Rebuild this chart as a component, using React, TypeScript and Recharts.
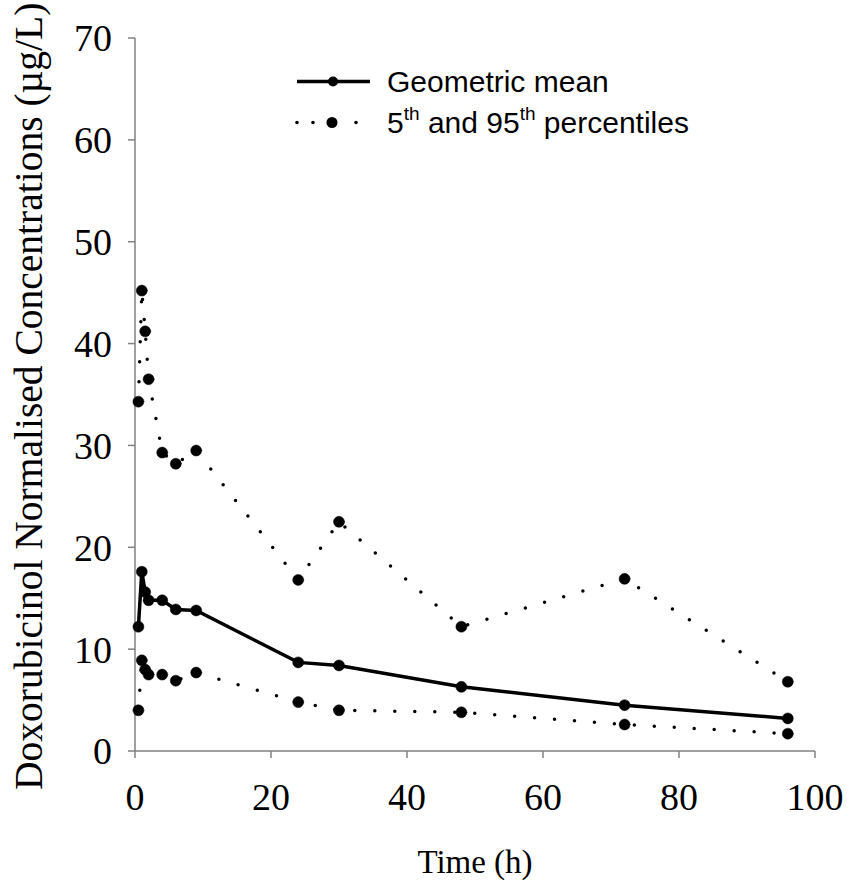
import { LineChart, Line, XAxis, YAxis, Legend, Label } from 'recharts';

// sampling times (h)
const times = [0.5, 1, 1.5, 2, 4, 6, 9, 24, 30, 48, 72, 96];
// geometric mean, 5th and 95th percentiles (µg/L)
const geoMean = [12.2, 17.6, 15.6, 14.8, 14.8, 13.9, 13.8, 8.7, 8.4, 6.3, 4.5, 3.2];
const p95 = [34.3, 45.2, 41.2, 36.5, 29.3, 28.2, 29.5, 16.8, 22.5, 12.2, 16.9, 6.8];
const p5 = [4.0, 8.9, 8.0, 7.5, 7.5, 6.9, 7.7, 4.8, 4.0, 3.8, 2.6, 1.7];

const xTicks = [0, 20, 40, 60, 80, 100];
const yTicks = [0, 10, 20, 30, 40, 50, 60, 70];

const data = times.map((t, i) => ({ time: t, mean: geoMean[i], p95: p95[i], p5: p5[i] }));

const SERIF = "'Liberation Serif', 'Times New Roman', serif";
const SANS = "'Liberation Sans', Arial, sans-serif";
const AXIS = '#808080';

const dotStyle = { r: 5.5, fill: '#000', stroke: '#000', strokeWidth: 0.5, strokeDasharray: 'none' };

function ChartLegend() {
  const row = { display: 'flex', alignItems: 'center', height: 41, whiteSpace: 'nowrap' as const };
  const sup = { fontSize: 19, verticalAlign: 'top', lineHeight: 1, position: 'relative' as const, top: -2 };
  return (
    <div style={{ fontFamily: SANS, fontSize: 30, color: '#000' }}>
      <div style={row}>
        <svg width={80} height={41}>
          <line x1={7} y1={20.5} x2={80} y2={20.5} stroke="#000" strokeWidth={3.5} />
          <circle cx={43} cy={20.5} r={5} fill="#000" />
        </svg>
        <span style={{ marginLeft: 17 }}>Geometric mean</span>
      </div>
      <div style={row}>
        <svg width={80} height={41}>
          <circle cx={7} cy={20.5} r={1.8} fill="#000" />
          <circle cx={23} cy={20.5} r={1.8} fill="#000" />
          <circle cx={42} cy={20.5} r={5.5} fill="#000" />
          <circle cx={66} cy={20.5} r={1.8} fill="#000" />
        </svg>
        <span style={{ marginLeft: 17 }}>
          5<span style={sup}>th</span> and 95<span style={sup}>th</span> percentiles
        </span>
      </div>
    </div>
  );
}

export default function App() {
  return (
    <div style={{ position: 'absolute', left: 0, top: 0, background: '#fff' }}>
      <LineChart width={848} height={889} data={data} margin={{ top: 38, right: 33, bottom: 0, left: 0 }}>
        <XAxis
          type="number"
          dataKey="time"
          domain={[0, 100]}
          ticks={xTicks}
          height={138}
          stroke={AXIS}
          strokeWidth={1.5}
          tickSize={7}
          tickMargin={25}
          tick={{ fontSize: 38, fontFamily: SERIF, fill: '#000' }}
        >
          <Label
            content={() => (
              <text x={475} y={873} textAnchor="middle" fontSize={33} fontFamily={SERIF} fill="#000">
                Time (h)
              </text>
            )}
          />
        </XAxis>
        <YAxis
          type="number"
          domain={[0, 70]}
          ticks={yTicks}
          width={135}
          stroke={AXIS}
          strokeWidth={1.5}
          tickSize={7}
          tickMargin={16}
          tick={{ fontSize: 38, fontFamily: SERIF, fill: '#000' }}
        >
          <Label
            content={() => (
              <text
                x={42}
                y={790}
                textAnchor="start"
                fontSize={39.5}
                fontFamily={SERIF}
                fill="#000"
                transform="rotate(-90, 42, 790)"
              >
                Doxorubicinol Normalised Concentrations (µg/L)
              </text>
            )}
          />
        </YAxis>
        <Legend
          layout="vertical"
          align="center"
          verticalAlign="middle"
          wrapperStyle={{ left: 290, top: 61, width: 460 }}
          content={() => <ChartLegend />}
        />
        <Line
          dataKey="p95"
          stroke="#000"
          strokeWidth={3.5}
          strokeDasharray="0 20"
          strokeLinecap="round"
          dot={dotStyle}
          activeDot={false}
          isAnimationActive={false}
        />
        <Line
          dataKey="p5"
          stroke="#000"
          strokeWidth={3.5}
          strokeDasharray="0 20"
          strokeLinecap="round"
          dot={dotStyle}
          activeDot={false}
          isAnimationActive={false}
        />
        <Line
          dataKey="mean"
          stroke="#000"
          strokeWidth={3.5}
          dot={dotStyle}
          activeDot={false}
          isAnimationActive={false}
        />
      </LineChart>
    </div>
  );
}
